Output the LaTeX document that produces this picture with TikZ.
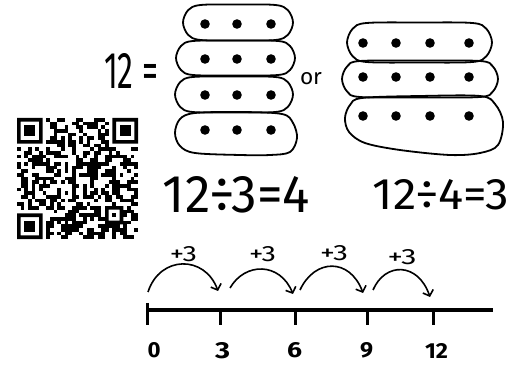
\documentclass[tikz,border=0pt]{standalone}
\usepackage{fontspec}
\setmainfont{Fira Sans}
\usetikzlibrary{arrows.meta}
\tikzset{
  blob/.style={line width=1.8pt, line join=round},
  dot/.style={fill=black},
  jump/.style={line width=1.6pt, -{Straight Barb[length=5pt,width=11pt,line width=1.6pt]}},
  tick/.style={line width=3pt},
  bigtext/.style={inner sep=0pt},
}
% stadium-like hand-drawn oval: left, top, right, bottom
\newcommand\stadium[4]{%
  \pgfmathsetmacro\sr{(#4-#2)/2}%
  \pgfmathsetmacro\sk{0.293*\sr}%
  \pgfmathsetmacro\sm{(#2+#4)/2}%
  \pgfmathsetmacro\sc{(#1+#3)/2}%
  \draw[blob] plot[smooth cycle, tension=0.55] coordinates {
    (#1,\sm) ({#1+\sk},{#2+\sk}) ({#1+\sr},#2) (\sc,{#2-0.5}) ({#3-\sr},#2)
    ({#3-\sk},{#2+\sk}) (#3,\sm) ({#3-\sk},{#4-\sk}) ({#3-\sr},#4)
    (\sc,{#4+0.5}) ({#1+\sr},#4) ({#1+\sk},{#4-\sk})};%
}
\begin{document}
\begin{tikzpicture}[x=1pt,y=-1pt]
\useasboundingbox (0,0) rectangle (509,366);
\fill[white] (0,0) rectangle (509,366);

% 12 =
\node[bigtext] (twelve) at (131,70.5) {\resizebox{54pt}{35pt}{12 =}};

% left stack (4 groups of 3)
\stadium{183}{5}{293}{40}
\stadium{176}{41}{295}{75}
\stadium{175}{77}{293}{112}
\draw[blob] plot[smooth cycle, tension=0.55] coordinates {(175,133) (180,119) (195,113) (240,112) (282,114) (293,123) (297,138) (290,152) (270,155) (240,155) (195,153) (180,146)};
\foreach \y in {24,59,95,130}{
  \foreach \x in {205,237,271}{\fill[dot] (\x,\y) circle (4.8pt);}
}

% or
\node[bigtext] (or) at (311,79) {\resizebox{22pt}{12pt}{or}};

% right stack (3 groups of 4)
\stadium{347}{23}{492}{62}
\stadium{342}{61}{498}{97}
\draw[blob] plot[smooth cycle, tension=0.55] coordinates {(345,118) (350,105) (362,98) (420,96) (480,96) (495,104) (503,122) (498,145) (480,153) (450,155) (400,150) (365,143) (349,132)};
\foreach \y in {43,77,116}{
  \foreach \x in {363,396,430,469}{\fill[dot] (\x,\y) circle (4.8pt);}
}

% QR code
\def\qrm{3.667}
\pgfmathsetseed{4242}
\foreach \i in {0,...,32}{
  \foreach \j in {0,...,32}{
    \pgfmathtruncatemacro\qrskip{((\i<8)&&(\j<8))||((\i>24)&&(\j<8))||((\i<8)&&(\j>24))||((\i>23)&&(\i<29)&&(\j>23)&&(\j<29))}
    \pgfmathrandominteger\qrr{0}{1}
    \ifnum\qrskip=0 \ifnum\qrr=1
      \fill ({17+\i*\qrm},{118+\j*\qrm}) rectangle ++(\qrm,\qrm);
    \fi\fi
  }
}
\foreach \ox/\oy in {0/0,26/0,0/26}{
  \fill[even odd rule] ({17+\ox*\qrm},{118+\oy*\qrm}) rectangle ++(7*\qrm,7*\qrm)
     ({17+(\ox+1)*\qrm},{118+(\oy+1)*\qrm}) rectangle ++(5*\qrm,5*\qrm);
  \fill ({17+(\ox+2)*\qrm},{118+(\oy+2)*\qrm}) rectangle ++(3*\qrm,3*\qrm);
}
\fill[even odd rule] ({17+24*\qrm},{118+24*\qrm}) rectangle ++(5*\qrm,5*\qrm)
     ({17+25*\qrm},{118+25*\qrm}) rectangle ++(3*\qrm,3*\qrm);
\fill ({17+26*\qrm},{118+26*\qrm}) rectangle ++(\qrm,\qrm);

% division sentences
\node[bigtext] (div1) at (236.5,195) {\resizebox{147pt}{36pt}{12÷3=4}};
\node[bigtext] (div2) at (441,195) {\resizebox{136pt}{30pt}{12÷4=3}};

% number line
\coordinate (n0) at (147,310);
\coordinate (nend) at (493,310);
\draw[tick] (n0) -- (nend);
\draw[tick] (147,303) -- (147,325);
\foreach \x/\n in {220/3,295/6,367/9,433/12}{
  \coordinate (t\n) at (\x,310);
  \draw[tick] (t\n) -- ++(0,15);
}
\node[bigtext] (l0) at (154,350.5) {\resizebox{13pt}{15pt}{\bfseries 0}};
\node[bigtext] (l3) at (222.5,350.5) {\resizebox{15pt}{16pt}{\bfseries 3}};
\node[bigtext] (l6) at (294.5,350.5) {\resizebox{15pt}{15pt}{\bfseries 6}};
\node[bigtext] (l9) at (366.5,350.5) {\resizebox{13pt}{15pt}{\bfseries 9}};
\node[bigtext] (l12) at (436.5,350.5) {\resizebox{23pt}{15pt}{\bfseries 12}};

% jumps
\coordinate (s1) at (148,292); \coordinate (e1) at (218,291);
\coordinate (s2) at (230,288); \coordinate (e2) at (293,294);
\coordinate (s3) at (300,290); \coordinate (e3) at (363,293);
\coordinate (s4) at (373,290); \coordinate (e4) at (430,297);
\draw[jump] (s1) .. controls (160,255) and (205,255) .. (e1);
\draw[jump] (s2) .. controls (245,262) and (280,262) .. (e2);
\draw[jump] (s3) .. controls (315,258) and (350,258) .. (e3);
\draw[jump] (s4) .. controls (385,262) and (418,262) .. (e4);
\node[bigtext] (p1) at (183.5,254.5) {\resizebox{27pt}{15pt}{+3}};
\node[bigtext] (p2) at (262.5,254.5) {\resizebox{27pt}{15pt}{+3}};
\node[bigtext] (p3) at (334,253.5) {\resizebox{28pt}{15pt}{+3}};
\node[bigtext] (p4) at (402,257) {\resizebox{29pt}{15pt}{+3}};
\end{tikzpicture}
\end{document}
